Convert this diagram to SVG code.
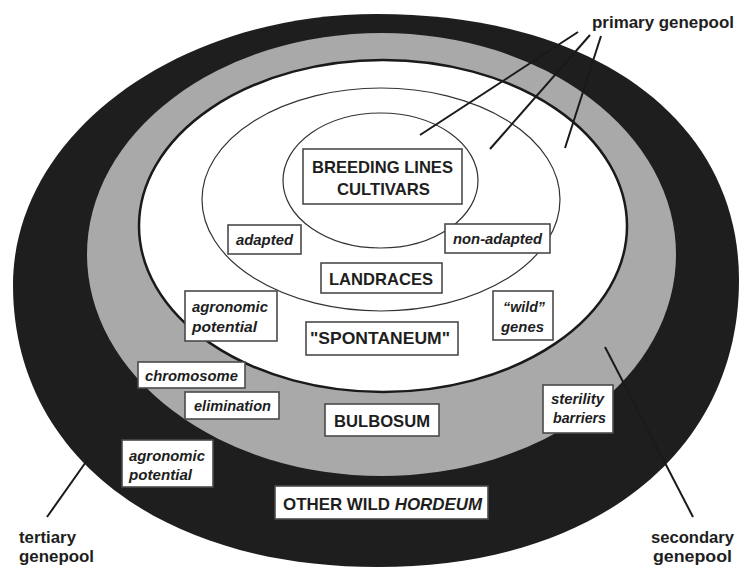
<svg xmlns="http://www.w3.org/2000/svg" width="745" height="568" viewBox="0 0 745 568">
<style>
.t{font-family:"Liberation Sans",Arial,sans-serif;font-weight:bold;fill:#1e1e1e;text-anchor:middle}
.cap{font-size:17px}
.it{font-size:14px;font-style:italic}
.lab{font-size:16px;text-anchor:start}
.box{fill:#fff;stroke:#4a4a4a;stroke-width:1.6}
.thin{fill:none;stroke:#333;stroke-width:1.2}
.ptr{stroke:#1a1a1a;stroke-width:2;fill:none}
</style>
<rect width="745" height="568" fill="#fff"/>
<g id="tertiary-ring"><path d="M377,14 C594,14 739,120 739,280 C739,452 595,567 378,567 C159,567 13,454 13,285 C13,135 176,14 377,14 Z" fill="#1e1e1e"/></g>
<g id="secondary-ring"><ellipse cx="381.5" cy="254.5" rx="294.5" ry="221.5" fill="#a9a9a9"/></g>
<g id="primary-pool"><ellipse cx="383" cy="226" rx="244" ry="166" fill="#fff" stroke="#1a1a1a" stroke-width="2.5"/></g>
<g id="landrace-pool"><ellipse cx="381" cy="199.5" rx="179" ry="111.5" class="thin"/></g>
<g id="cultivar-pool"><ellipse cx="380.5" cy="180.5" rx="97.5" ry="67.5" class="thin"/></g>
<g id="connectors">
<line class="ptr" x1="578" y1="32" x2="420" y2="135"/>
<line class="ptr" x1="590" y1="35" x2="490" y2="149"/>
<line class="ptr" x1="601" y1="36" x2="565" y2="148"/>
<line class="ptr" x1="605" y1="347" x2="693" y2="517"/>
<line class="ptr" x1="88" y1="459" x2="47" y2="517"/>
</g>
<g id="breeding-lines">
<rect class="box" x="303" y="149" width="159" height="55"/>
<text class="t cap" x="382.5" y="173" textLength="141" lengthAdjust="spacingAndGlyphs">BREEDING LINES</text>
<text class="t cap" x="383.5" y="195" textLength="93" lengthAdjust="spacingAndGlyphs">CULTIVARS</text>
</g>
<g id="adapted">
<rect class="box" x="228" y="225" width="73" height="29"/>
<text class="t it" x="264.5" y="245" textLength="57" lengthAdjust="spacingAndGlyphs">adapted</text>
</g>
<g id="non-adapted">
<rect class="box" x="445" y="224" width="105" height="29"/>
<text class="t it" x="497.5" y="244" textLength="89" lengthAdjust="spacingAndGlyphs">non-adapted</text>
</g>
<g id="landraces">
<rect class="box" x="321" y="263" width="121" height="30"/>
<text class="t cap" x="381" y="285" textLength="104" lengthAdjust="spacingAndGlyphs">LANDRACES</text>
</g>
<g id="agronomic-potential-1">
<rect class="box" x="185" y="291" width="92" height="50"/>
<text class="t it" x="230" y="312" textLength="76" lengthAdjust="spacingAndGlyphs">agronomic</text>
<text class="t it" x="224.5" y="332" textLength="65" lengthAdjust="spacingAndGlyphs">potential</text>
</g>
<g id="wild-genes">
<rect class="box" x="493" y="291" width="60" height="49"/>
<text class="t it" x="524" y="312" textLength="42" lengthAdjust="spacingAndGlyphs">“wild”</text>
<text class="t it" x="522.5" y="332" textLength="43" lengthAdjust="spacingAndGlyphs">genes</text>
</g>
<g id="spontaneum">
<rect class="box" x="306" y="322" width="152" height="33"/>
<text class="t cap" x="380" y="344" textLength="140" lengthAdjust="spacingAndGlyphs">"SPONTANEUM"</text>
</g>
<g id="chromosome">
<rect class="box" x="138" y="362" width="107" height="26"/>
<text class="t it" x="191.5" y="381" textLength="93" lengthAdjust="spacingAndGlyphs">chromosome</text>
</g>
<g id="elimination">
<rect class="box" x="185" y="392" width="94" height="27"/>
<text class="t it" x="232.5" y="411" textLength="77" lengthAdjust="spacingAndGlyphs">elimination</text>
</g>
<g id="bulbosum">
<rect class="box" x="325" y="404" width="114" height="32"/>
<text class="t cap" x="382" y="427" textLength="96" lengthAdjust="spacingAndGlyphs">BULBOSUM</text>
</g>
<g id="sterility-barriers">
<rect class="box" x="543" y="385" width="70" height="48"/>
<text class="t it" x="577.5" y="404" textLength="53" lengthAdjust="spacingAndGlyphs">sterility</text>
<text class="t it" x="579.5" y="423" textLength="53" lengthAdjust="spacingAndGlyphs">barriers</text>
</g>
<g id="agronomic-potential-2">
<rect class="box" x="122" y="440" width="91" height="47"/>
<text class="t it" x="167" y="461" textLength="76" lengthAdjust="spacingAndGlyphs">agronomic</text>
<text class="t it" x="160.5" y="480" textLength="63" lengthAdjust="spacingAndGlyphs">potential</text>
</g>
<g id="other-wild-hordeum">
<rect class="box" x="275" y="486" width="213" height="33"/>
<text class="t cap" x="382.5" y="510" textLength="199" lengthAdjust="spacingAndGlyphs">OTHER WILD <tspan font-style="italic">HORDEUM</tspan></text>
</g>
<g id="primary-genepool-label">
<text class="t lab" x="592" y="28" textLength="142" lengthAdjust="spacingAndGlyphs">primary genepool</text>
</g>
<g id="tertiary-genepool-label">
<text class="t lab" x="19" y="543" textLength="57" lengthAdjust="spacingAndGlyphs">tertiary</text>
<text class="t lab" x="19" y="562" textLength="75" lengthAdjust="spacingAndGlyphs">genepool</text>
</g>
<g id="secondary-genepool-label">
<text class="t lab" x="651" y="543" textLength="83" lengthAdjust="spacingAndGlyphs">secondary</text>
<text class="t lab" x="653" y="562" textLength="79" lengthAdjust="spacingAndGlyphs">genepool</text>
</g>
</svg>
